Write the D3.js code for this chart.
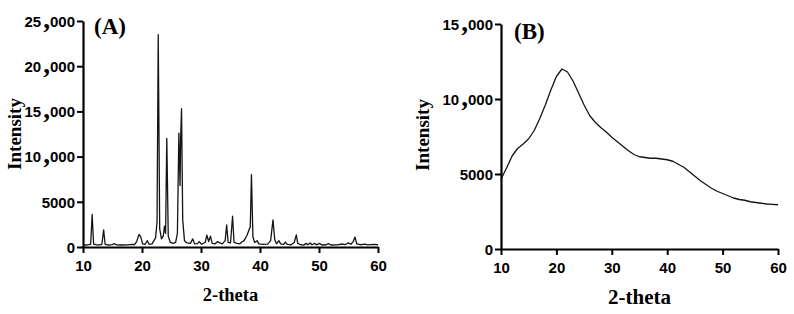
<!DOCTYPE html>
<html>
<head>
<meta charset="utf-8">
<script src="https://cdn.jsdelivr.net/npm/d3@7"></script>
<style>
  body { margin: 0; background: #fff; }
  svg { display: block; }
</style>
</head>
<body>
<script>
var w = 794;
var h = 314;

// panel A: crystalline pattern, [2-theta, intensity]
var thetaA = [10.0,10.5,11.0,11.3,11.55,11.8,12.2,12.8,13.2,13.5,13.75,14.3,15.0,15.3,15.6,16.5,17.5,18.4,18.7,19.1,19.5,19.8,20.1,20.5,20.9,21.2,21.7,22.3,22.55,22.75,23.0,23.3,23.6,23.8,24.0,24.2,24.45,24.8,25.3,25.7,26.0,26.25,26.45,26.55,26.7,26.9,27.2,27.6,28.2,28.6,28.9,29.4,29.7,30.1,30.7,31.0,31.3,31.6,31.9,32.4,32.8,33.2,33.6,34.1,34.35,34.6,35.0,35.35,35.6,36.1,36.6,36.9,37.3,37.8,38.2,38.35,38.55,38.8,39.1,39.5,39.8,40.5,41.3,41.8,42.2,42.5,42.8,43.2,43.5,44.0,44.3,44.6,45.3,45.8,46.15,46.4,46.9,47.4,47.8,48.1,48.5,48.8,49.3,49.6,50.1,50.5,51.2,51.6,52.0,53.0,54.0,54.4,55.0,55.4,55.8,56.1,56.4,57.0,57.8,58.2,59.3,60.0];
var intensityA = [250,220,260,300,3600,320,250,230,300,1900,300,220,260,380,240,220,240,300,250,600,1400,1100,350,280,700,300,350,1000,2800,23500,2000,900,1200,2300,1500,12000,1200,500,400,500,1500,12600,6800,12000,15300,3000,700,450,400,900,350,380,600,300,500,1300,600,1200,400,350,600,450,350,700,2450,500,450,3400,500,400,350,550,700,1300,2000,2200,8000,1100,500,700,350,300,320,700,3000,800,350,700,350,300,550,300,250,500,1350,400,250,200,400,250,450,250,400,230,400,220,250,380,220,230,330,250,450,300,600,1100,350,250,320,230,280,250];

// panel B: amorphous hump
var thetaB = [10,11,12,13,14,15,16,17,18,19,20,21,22,23,24,25,26,27,28,29,30,31,32,33,34,35,36,37,38,39,40,41,42,43,44,45,46,47,48,49,50,51,52,53,54,55,56,57,58,59,60];
var intensityB = [4650,5400,6200,6700,7000,7350,7900,8700,9600,10600,11500,12000,11800,11200,10400,9600,8900,8450,8100,7800,7450,7150,6850,6550,6300,6150,6100,6050,6050,6000,5950,5850,5650,5450,5150,4850,4550,4300,4050,3850,3700,3550,3400,3300,3250,3150,3100,3050,3000,2980,2950];

var xTicks = [10, 20, 30, 40, 50, 60];
var yTicksA = [0, 5000, 10000, 15000, 20000, 25000];
var yTicksB = [0, 5000, 10000, 15000];

var svg = d3.select('body').append('svg').attr('width', w).attr('height', h);

function drawPanel(o) {
  var x = d3.scaleLinear().domain([10, 60]).range([o.left, o.right]);
  var y = d3.scaleLinear().domain([0, o.ymax]).range([o.bottom, o.top]);
  var g = svg.append('g');

  var pts = o.xs.map(function(v, i) { return [v, o.ys[i]]; });
  g.append('path')
    .datum(pts)
    .attr('d', d3.line().x(function(d) { return x(d[0]); }).y(function(d) { return y(d[1]); }))
    .attr('fill', 'none')
    .attr('stroke', '#141414')
    .attr('stroke-width', 1.3)
    .attr('stroke-linejoin', 'round');

  var xa = g.append('g')
    .attr('transform', 'translate(0,' + o.bottom + ')')
    .call(d3.axisBottom(x).tickValues(xTicks).tickSize(6).tickSizeOuter(0).tickPadding(7));
  var ya = g.append('g')
    .attr('transform', 'translate(' + o.left + ',0)')
    .call(d3.axisLeft(y).tickValues(o.yTicks).tickSize(6).tickSizeOuter(0).tickPadding(2).tickFormat(''));

  [xa, ya].forEach(function(a) {
    a.select('.domain').attr('stroke', '#000').attr('stroke-width', 2.2);
    a.selectAll('.tick line').attr('stroke', '#000').attr('stroke-width', 2);
  });
  xa.selectAll('.tick text')
    .attr('font-family', 'Liberation Sans, Arial, sans-serif')
    .attr('font-weight', 'bold')
    .attr('font-size', 15)
    .attr('fill', '#000');

  // y labels: thousands comma set in a larger serif face like the original
  ya.selectAll('.tick').each(function(d) {
    var t = d3.select(this).select('text')
      .attr('font-family', 'Liberation Sans, Arial, sans-serif')
      .attr('font-weight', 'bold')
      .attr('font-size', 15)
      .attr('fill', '#000')
      .attr('dy', '0.35em');
    if (d >= 10000) {
      t.append('tspan').text(String(Math.floor(d / 1000)));
      t.append('tspan').attr('font-family', 'Liberation Serif, serif').attr('font-size', 27)
        .attr('dx', 2).attr('dy', 1).text(',');
      t.append('tspan').attr('dy', -1).text('000');
    } else {
      t.text(d);
    }
  });

  g.append('text')
    .attr('transform', 'translate(' + o.ylabX + ',' + o.ylabY + ') rotate(-90)')
    .attr('text-anchor', 'middle')
    .attr('dy', '0.35em')
    .attr('font-family', 'Liberation Serif, Times New Roman, serif')
    .attr('font-weight', 'bold')
    .attr('font-size', 19)
    .text('Intensity');

  g.append('text')
    .attr('x', (o.left + o.right) / 2)
    .attr('y', o.xlabY)
    .attr('text-anchor', 'middle')
    .attr('font-family', 'Liberation Serif, Times New Roman, serif')
    .attr('font-weight', 'bold')
    .attr('font-size', o.xlabSize)
    .text('2-theta');

  g.append('text')
    .attr('x', o.tagX)
    .attr('y', o.tagY)
    .attr('font-family', 'Liberation Serif, Times New Roman, serif')
    .attr('font-weight', 'bold')
    .attr('font-size', 23)
    .text(o.tag);
}

drawPanel({xs: thetaA, ys: intensityA, ymax: 25000, yTicks: yTicksA,
  left: 83, right: 378, top: 21, bottom: 247,
  ylabX: 14, ylabY: 134, xlabY: 301, xlabSize: 18.5, tagX: 94, tagY: 34, tag: '(A)'});

drawPanel({xs: thetaB, ys: intensityB, ymax: 15000, yTicks: yTicksB,
  left: 501, right: 778, top: 24, bottom: 249,
  ylabX: 422, ylabY: 135, xlabY: 304, xlabSize: 21, tagX: 514, tagY: 39, tag: '(B)'});
</script>
</body>
</html>
